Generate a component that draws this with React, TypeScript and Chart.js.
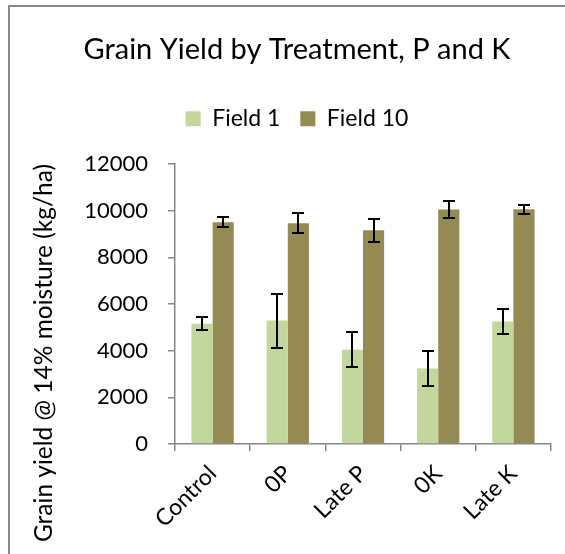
import React, { useEffect, useRef } from 'react';
import { Chart, registerables } from 'chart.js';

Chart.register(...registerables);

const categories = ['Control', '0P', 'Late P', '0K', 'Late K'];
const field1 = [5150, 5290, 4040, 3240, 5250];
const field10 = [9500, 9460, 9160, 10050, 10060];
const field1Err = [285, 1155, 740, 740, 515];
const field10Err = [210, 420, 490, 365, 200];
const seriesNames = ['Field 1', 'Field 10'];
const yMin = 0;
const yMax = 12000;
const yStep = 2000;

const errors = [field1Err, field10Err];

const PAD_L = 43;
const PAD_R = 14;
const PLOT_LEFT = 175;
const PLOT_BOTTOM = 444;
const W = 565;
const H = 554;
const FONT = 'Lato, "Open Sans", sans-serif';

const errorBarPlugin = {
  id: 'errorBars',
  afterDatasetsDraw(chart: any) {
    const ctx = chart.ctx;
    const y = chart.scales.y;
    chart.data.datasets.forEach((ds: any, di: number) => {
      const meta = chart.getDatasetMeta(di);
      const errs = errors[di];
      meta.data.forEach((bar: any, i: number) => {
        const v = ds.data[i];
        const e = errs[i];
        const x = Math.round(bar.x);
        const yTop = Math.round(y.getPixelForValue(v + e));
        const yBot = Math.round(y.getPixelForValue(v - e));
        ctx.save();
        ctx.strokeStyle = '#000';
        ctx.lineWidth = 2;
        ctx.beginPath();
        ctx.moveTo(x, yTop);
        ctx.lineTo(x, yBot);
        ctx.moveTo(x - 6, yTop);
        ctx.lineTo(x + 6, yTop);
        ctx.moveTo(x - 6, yBot);
        ctx.lineTo(x + 6, yBot);
        ctx.stroke();
        ctx.restore();
      });
    });
  },
};

export default function App() {
  const canvasRef = useRef<HTMLCanvasElement | null>(null);

  useEffect(() => {
    if (!canvasRef.current) return;
    const chart = new Chart(canvasRef.current, {
      type: 'bar',
      data: {
        labels: categories,
        datasets: [
          {
            label: seriesNames[0],
            data: field1,
            backgroundColor: '#c3d69b',
            borderWidth: 0,
            categoryPercentage: 0.5625,
            barPercentage: 1,
          },
          {
            label: seriesNames[1],
            data: field10,
            backgroundColor: '#948a54',
            borderWidth: 0,
            categoryPercentage: 0.5625,
            barPercentage: 1,
          },
        ],
      },
      options: {
        responsive: false,
        animation: false,
        devicePixelRatio: 1,
        layout: { padding: { left: PAD_L, right: PAD_R, top: 20, bottom: 0 } },
        font: { family: FONT },
        plugins: {
          title: {
            display: true,
            text: 'Grain Yield by Treatment, P and K',
            color: '#000',
            font: { family: FONT, size: 29, weight: 'normal' },
            padding: { top: 12.2, bottom: 20.2 },
          },
          legend: {
            display: true,
            position: 'top',
            labels: {
              color: '#000',
              font: { family: FONT, size: 23 },
              boxWidth: 15,
              boxHeight: 15,
              padding: 20,
            },
          },
          subtitle: {
            display: true,
            text: '',
            weight: 500,
            font: { size: 10 },
            padding: { top: 0, bottom: 11.8 },
          } as any,
          tooltip: { enabled: false },
        },
        scales: {
          x: {
            ticks: {
              color: '#000',
              font: { family: FONT, size: 23 },
              maxRotation: 45,
              minRotation: 45,
              autoSkip: false,
              padding: 9,
            },
            grid: {
              display: true,
              drawOnChartArea: false,
              drawTicks: true,
              tickLength: 7,
              color: '#868686',
              lineWidth: 1.5,
            },
            border: { display: true, color: '#868686', width: 1.5 },
            afterFit(scale: any) {
              scale.height = H - PLOT_BOTTOM;
            },
          },
          y: {
            min: yMin,
            max: yMax,
            ticks: {
              stepSize: yStep,
              color: '#000',
              font: { family: FONT, size: 22 },
              padding: 20,
              callback: (v: any) => String(v),
            },
            grid: {
              display: true,
              drawOnChartArea: false,
              drawTicks: true,
              tickLength: 7,
              color: '#868686',
              lineWidth: 1.5,
            },
            border: { display: true, color: '#868686', width: 1.5 },
            title: {
              display: true,
              text: 'Grain yield @ 14% moisture (kg/ha)',
              align: 'end',
              color: '#000',
              font: { family: FONT, size: 24.5 },
              padding: { top: -13.7, bottom: 0 },
            },
            afterFit(scale: any) {
              scale.width = PLOT_LEFT - PAD_L;
            },
          },
        },
      } as any,
      plugins: [errorBarPlugin],
    });
    return () => chart.destroy();
  }, []);

  return (
    <div
      style={{
        position: 'absolute',
        left: 0,
        top: 0,
        width: W,
        height: H,
        overflow: 'hidden',
        background: '#fff',
      }}
    >
      <div
        style={{
          position: 'absolute',
          left: 8,
          top: 5,
          width: 700,
          height: 700,
          borderLeft: '2px solid #888',
          borderTop: '2px solid #888',
        }}
      />
      <canvas
        ref={canvasRef}
        width={W}
        height={H}
        style={{ position: 'absolute', left: 0, top: 0, width: W, height: H }}
      />
    </div>
  );
}
